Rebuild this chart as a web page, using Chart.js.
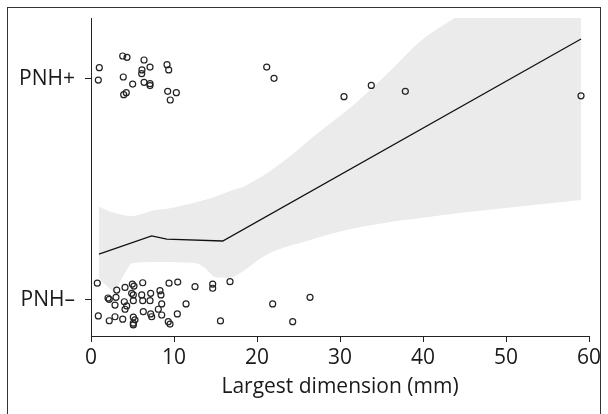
<!DOCTYPE html>
<html><head><meta charset="utf-8">
<script src="https://cdn.jsdelivr.net/npm/chart.js@4/dist/chart.umd.min.js"></script>
<style>html,body{margin:0;padding:0;background:#fff}#wrap{position:relative;width:608px;height:414px}</style>
</head><body><div id="wrap"><canvas id="c" width="608" height="414"></canvas></div>
<script>
// Categories on y (0 = PNH–, 1 = PNH+), jittered points
const yCategories = ['PNH–', 'PNH+'];
const xTitle = 'Largest dimension (mm)';

const posX = [1.00, 0.88, 3.82, 4.34, 6.39, 6.14, 6.11, 7.11, 9.16, 9.36, 3.89, 5.02, 6.39, 7.11, 7.11, 4.25, 3.94, 9.24, 10.28, 9.55, 21.17, 22.05, 30.48, 33.77, 37.87, 59.04];
const posY = [1.051, 0.995, 1.104, 1.098, 1.086, 1.041, 1.024, 1.054, 1.065, 1.041, 1.009, 0.977, 0.985, 0.979, 0.970, 0.938, 0.929, 0.944, 0.938, 0.905, 1.054, 1.003, 0.920, 0.971, 0.944, 0.924];

const negX = [0.76, 0.88, 2.20, 2.20, 3.10, 3.01, 2.89, 2.89, 3.82, 4.01, 4.10, 4.30, 4.10, 4.98, 5.18, 4.90, 5.10, 5.10, 5.10, 5.30, 5.10, 5.10, 6.23, 6.11, 6.23, 6.30, 7.19, 7.11, 7.19, 7.31, 8.31, 8.43, 8.52, 8.11, 8.52, 9.40, 9.31, 9.52, 10.45, 10.40, 11.45, 12.53, 14.66, 14.66, 15.60, 16.75, 21.89, 26.39, 24.30, 2.05];
const negY = [0.076, -0.072, 0.003, -0.094, 0.045, 0.012, -0.023, -0.076, -0.087, -0.008, 0.057, -0.027, -0.042, 0.072, 0.063, 0.030, 0.023, -0.003, -0.078, -0.090, -0.105, -0.113, 0.078, 0.023, -0.003, -0.053, 0.030, -0.003, -0.063, -0.076, 0.042, 0.023, -0.018, -0.042, -0.068, 0.076, -0.098, -0.109, 0.081, -0.063, -0.018, 0.060, 0.072, 0.053, -0.095, 0.083, -0.018, 0.012, -0.098, 0.009];

// Smoothed fit and its confidence band
const fitX = [0.96, 7.31, 9.12, 15.87, 59.04];
const fitY = [0.208, 0.290, 0.275, 0.267, 1.181];

const upperX = [0.96, 2.5, 4.9, 6.5, 7.7, 9.0, 11.3, 14.9, 16.75, 18.55, 22.77, 27.0, 32.01, 36.0, 39.64, 43.25, 50.0, 59.04];
const upperY = [0.422, 0.398, 0.380, 0.394, 0.407, 0.412, 0.430, 0.466, 0.493, 0.516, 0.615, 0.745, 0.895, 1.035, 1.170, 1.262, 1.42, 1.60];

const lowerX = [0.96, 2.0, 2.9, 3.6, 4.46, 4.90, 8.31, 12.53, 13.73, 14.94, 16.51, 18.55, 20.72, 26.39, 32.77, 40.84, 59.04];
const lowerY = [0.100, 0.060, 0.040, 0.090, 0.145, 0.166, 0.172, 0.167, 0.145, 0.104, 0.100, 0.136, 0.196, 0.271, 0.332, 0.377, 0.452];

const pts = (xs, ys) => xs.map((x, i) => ({x, y: ys[i]}));

const FONT = {family: "'Open Sans', sans-serif", size: 21};
const INK = '#1a1a1a';

const framePlugin = {
  id: 'frame',
  afterDraw(chart) {
    const ctx = chart.ctx;
    ctx.save();
    ctx.strokeStyle = '#333';
    ctx.lineWidth = 1;
    ctx.strokeRect(7.5, 7.5, 593, 430);
    ctx.restore();
  }
};

const pointStyle = {
  showLine: false, pointRadius: 3, pointHoverRadius: 3, pointBorderWidth: 1.2,
  pointBorderColor: '#222', pointBackgroundColor: 'rgba(255,255,255,0)'
};

new Chart(document.getElementById('c'), {
  type: 'scatter',
  data: {
    datasets: [
      Object.assign({label: 'PNH+', data: pts(posX, posY)}, pointStyle),
      Object.assign({label: 'PNH–', data: pts(negX, negY)}, pointStyle),
      {label: 'fit', data: pts(fitX, fitY), showLine: true, pointRadius: 0, borderColor: '#111', borderWidth: 1.3, fill: false, tension: 0},
      {label: 'lower', data: pts(lowerX, lowerY), showLine: true, pointRadius: 0, borderWidth: 0, borderColor: 'rgba(0,0,0,0)', fill: false, cubicInterpolationMode: 'monotone'},
      {label: 'upper', data: pts(upperX, upperY), showLine: true, pointRadius: 0, borderWidth: 0, borderColor: 'rgba(0,0,0,0)', backgroundColor: '#ebebeb', fill: 3, cubicInterpolationMode: 'monotone'}
    ]
  },
  options: {
    responsive: false, animation: false, devicePixelRatio: 1,
    layout: {padding: {top: 18, right: 19, left: 0, bottom: 14}},
    plugins: {legend: {display: false}, tooltip: {enabled: false}},
    scales: {
      x: {
        type: 'linear', min: 0, max: 60,
        ticks: {stepSize: 10, font: FONT, color: INK, padding: 3, maxRotation: 0},
        grid: {display: true, drawOnChartArea: false, drawTicks: true, tickLength: 6, color: '#222', lineWidth: 1},
        border: {display: true, color: '#222', width: 1},
        title: {display: true, text: xTitle, font: FONT, color: INK, padding: {top: 2, bottom: 0}},
        afterFit: s => { s.height = 64; s.paddingLeft = 0; s.paddingRight = 0; }
      },
      y: {
        type: 'linear', min: -0.163, max: 1.276,
        afterBuildTicks: s => { s.ticks = yCategories.map((_, i) => ({value: i})); },
        ticks: {font: FONT, color: INK, padding: 10, callback: v => yCategories[v]},
        grid: {display: true, drawOnChartArea: false, drawTicks: true, tickLength: 6, color: '#222', lineWidth: 1},
        border: {display: true, color: '#222', width: 1},
        afterFit: s => { s.width = 91; s.paddingTop = 0; s.paddingBottom = 0; }
      }
    }
  },
  plugins: [framePlugin]
});
</script>
</body></html>
